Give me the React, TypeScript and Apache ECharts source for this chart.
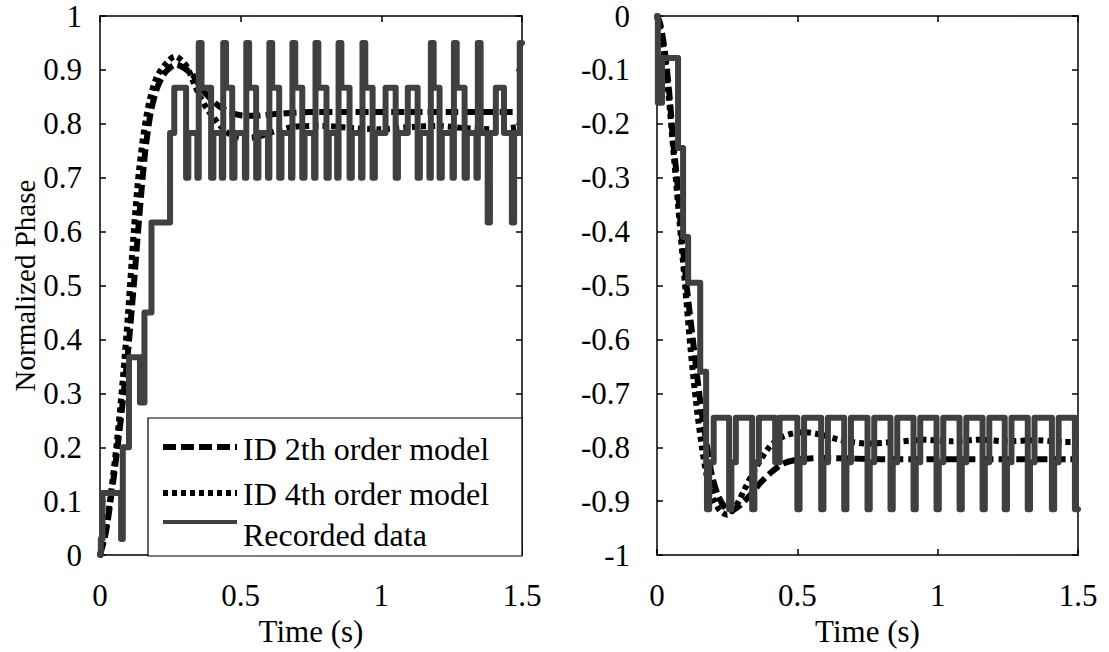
import React, { useEffect, useRef } from "react";
import * as echarts from "echarts";

const FONT = "'Liberation Serif', 'Times New Roman', Times, serif";

// ---------- Left panel data ----------
// Recorded data: [time (s), normalized phase] change points (held until next point)
const leftRecorded = [
  [0, 0], [0.003, 0.03], [0.009, 0.115], [0.075, 0.03], [0.081, 0.2],
  [0.103, 0.367], [0.142, 0.283], [0.158, 0.45], [0.183, 0.617], [0.249, 0.783],
  [0.264, 0.867], [0.306, 0.7], [0.314, 0.783],
  [0.346, 0.7], [0.351, 0.95], [0.361, 0.867], [0.395, 0.7], [0.403, 0.783],
  [0.433, 0.7], [0.438, 0.95], [0.448, 0.867], [0.47, 0.7], [0.478, 0.783],
  [0.515, 0.7], [0.52, 0.95], [0.53, 0.867], [0.555, 0.7], [0.563, 0.783],
  [0.597, 0.7], [0.602, 0.95], [0.612, 0.867], [0.637, 0.7], [0.645, 0.783],
  [0.679, 0.7], [0.684, 0.95], [0.694, 0.867], [0.719, 0.7], [0.727, 0.783],
  [0.761, 0.7], [0.766, 0.95], [0.776, 0.867], [0.805, 0.7], [0.813, 0.783],
  [0.843, 0.7], [0.848, 0.95], [0.858, 0.867], [0.887, 0.7], [0.895, 0.783],
  [0.928, 0.7], [0.933, 0.95], [0.943, 0.867], [0.969, 0.7], [0.977, 0.783],
  [1.015, 0.867], [1.051, 0.7], [1.059, 0.783], [1.094, 0.867], [1.129, 0.7],
  [1.137, 0.783], [1.171, 0.7], [1.176, 0.95], [1.186, 0.867], [1.207, 0.7],
  [1.215, 0.783], [1.253, 0.7], [1.258, 0.95], [1.268, 0.867], [1.296, 0.7],
  [1.304, 0.783], [1.338, 0.7], [1.343, 0.95], [1.353, 0.783], [1.378, 0.617],
  [1.386, 0.783], [1.407, 0.867], [1.436, 0.783], [1.464, 0.617], [1.472, 0.783],
  [1.492, 0.95], [1.5, 0.95],
];

const leftDashT = [
  0, 0.02, 0.04, 0.06, 0.08, 0.1, 0.12, 0.14, 0.16, 0.18, 0.2, 0.22, 0.24,
  0.27, 0.3, 0.33, 0.36, 0.39, 0.42, 0.46, 0.5, 0.55, 0.62, 0.75, 1.0, 1.25, 1.5,
];
const leftDashV = [
  0, 0.04, 0.11, 0.19, 0.28, 0.38, 0.5, 0.63, 0.745, 0.82, 0.862, 0.886, 0.9,
  0.91, 0.903, 0.89, 0.866, 0.848, 0.834, 0.822, 0.816, 0.815, 0.818, 0.822,
  0.822, 0.822, 0.822,
];

const leftDotT = [
  0, 0.02, 0.04, 0.06, 0.08, 0.1, 0.12, 0.14, 0.167, 0.2, 0.24, 0.267, 0.29,
  0.31, 0.33, 0.356, 0.38, 0.403, 0.43, 0.452, 0.5, 0.56, 0.62, 0.7, 0.8, 0.9,
  1.0, 1.1, 1.2, 1.3, 1.4, 1.5,
];
const leftDotV = [
  0, 0.045, 0.12, 0.21, 0.32, 0.45, 0.6, 0.72, 0.82, 0.885, 0.915, 0.925,
  0.918, 0.905, 0.88, 0.85, 0.828, 0.812, 0.795, 0.784, 0.774, 0.776, 0.786,
  0.795, 0.796, 0.792, 0.79, 0.794, 0.796, 0.792, 0.79, 0.795,
];

// ---------- Right panel data ----------
const rightRecorded = [
  [0, 0], [0.003, -0.161], [0.018, -0.078], [0.075, -0.245], [0.093, -0.41],
  [0.111, -0.495], [0.154, -0.66], [0.175, -0.828], [0.178, -0.915], [0.186, -0.828],
  [0.202, -0.745],
  [0.257, -0.915], [0.265, -0.828], [0.281, -0.745],
  [0.339, -0.915], [0.347, -0.828], [0.363, -0.745],
  [0.421, -0.828], [0.437, -0.745],
  [0.5, -0.915], [0.508, -0.828], [0.524, -0.745],
  [0.585, -0.915], [0.593, -0.828], [0.609, -0.745],
  [0.667, -0.915], [0.675, -0.828], [0.691, -0.745],
  [0.75, -0.915], [0.758, -0.828], [0.774, -0.745],
  [0.832, -0.915], [0.84, -0.828], [0.856, -0.745],
  [0.914, -0.915], [0.922, -0.828], [0.938, -0.745],
  [0.996, -0.915], [1.004, -0.828], [1.02, -0.745],
  [1.078, -0.915], [1.086, -0.828], [1.102, -0.745],
  [1.16, -0.915], [1.168, -0.828], [1.184, -0.745],
  [1.239, -0.915], [1.247, -0.828], [1.263, -0.745],
  [1.321, -0.915], [1.329, -0.828], [1.345, -0.745],
  [1.407, -0.915], [1.415, -0.828], [1.431, -0.745],
  [1.489, -0.915], [1.5, -0.915],
];

const rightDashT = [
  0, 0.011, 0.029, 0.046, 0.057, 0.071, 0.082, 0.093, 0.107, 0.129, 0.143,
  0.161, 0.179, 0.196, 0.218, 0.24, 0.26, 0.29, 0.33, 0.37, 0.41, 0.45, 0.5,
  0.6, 0.8, 1.0, 1.25, 1.5,
];
const rightDashV = [
  0, -0.013, -0.07, -0.156, -0.23, -0.3, -0.372, -0.433, -0.507, -0.606,
  -0.668, -0.742, -0.8, -0.853, -0.89, -0.91, -0.918, -0.91, -0.89, -0.865,
  -0.845, -0.83, -0.823, -0.82, -0.822, -0.822, -0.822, -0.822,
];

const rightDotT = [
  0, 0.02, 0.04, 0.06, 0.08, 0.1, 0.12, 0.14, 0.16, 0.18, 0.2, 0.225, 0.25,
  0.28, 0.31, 0.35, 0.4, 0.45, 0.52, 0.58, 0.65, 0.75, 0.85, 0.95, 1.05, 1.15,
  1.25, 1.35, 1.45, 1.5,
];
const rightDotV = [
  0, -0.05, -0.14, -0.26, -0.38, -0.5, -0.62, -0.72, -0.8, -0.86, -0.895,
  -0.918, -0.925, -0.91, -0.88, -0.84, -0.8, -0.78, -0.772, -0.776, -0.786,
  -0.793, -0.79, -0.786, -0.789, -0.786, -0.789, -0.787, -0.79, -0.79,
];

const legendLabels = ["ID 2th order model", "ID 4th order model", "Recorded data"];
const xAxisName = "Time (s)";
const yAxisName = "Normalized Phase";

const zip = (t: number[], v: number[]) => t.map((x, i) => [x, v[i]]);

const axisLineStyle = { color: "#000", width: 1.5 };
const labelStyle = { fontSize: 31, color: "#000", fontFamily: FONT };

function xAxes(grid: number) {
  const base = {
    type: "value",
    gridIndex: grid,
    min: 0,
    max: 1.5,
    interval: 0.5,
    splitLine: { show: false },
    axisLine: { show: true, onZero: false, lineStyle: axisLineStyle },
    axisTick: { show: true, inside: true, length: 6, lineStyle: axisLineStyle },
  };
  return [
    {
      ...base,
      position: "bottom",
      axisLabel: { ...labelStyle, margin: 25 },
      name: xAxisName,
      nameLocation: "middle",
      nameGap: 60,
      nameTextStyle: { ...labelStyle },
    },
    { ...base, position: "top", axisLabel: { show: false } },
  ];
}

function yAxes(grid: number, min: number, max: number, margin: number, name?: string) {
  const base = {
    type: "value",
    gridIndex: grid,
    min,
    max,
    interval: 0.1,
    splitLine: { show: false },
    axisLine: { show: true, onZero: false, lineStyle: axisLineStyle },
    axisTick: { show: true, inside: true, length: 6, lineStyle: axisLineStyle },
  };
  const left: any = {
    ...base,
    position: "left",
    axisLabel: { ...labelStyle, margin },
  };
  if (name) {
    left.name = name;
    left.nameLocation = "middle";
    left.nameGap = 57;
    left.nameTextStyle = { ...labelStyle, fontSize: 29 };
  }
  return [left, { ...base, position: "right", axisLabel: { show: false } }];
}

function modelSeries(xi: number, yi: number, data: number[][], dash: number[]) {
  return {
    type: "line",
    xAxisIndex: xi,
    yAxisIndex: yi,
    data,
    showSymbol: false,
    smooth: 0.3,
    lineStyle: { color: "#000", width: 6, type: dash, cap: "butt" },
    silent: true,
  };
}

function recSeries(xi: number, yi: number, data: number[][]) {
  return {
    type: "line",
    xAxisIndex: xi,
    yAxisIndex: yi,
    data,
    showSymbol: false,
    step: "end",
    lineStyle: { color: "#404040", width: 6, cap: "round", join: "round" },
    silent: true,
  };
}

const DASH = [13, 5];
const DOT = [5, 4];

export default function App() {
  const ref = useRef<HTMLDivElement>(null);
  useEffect(() => {
    const chart = echarts.init(ref.current!, null, { renderer: "svg" });
    const legendText = (i: number, y: number) => ({
      type: "text",
      x: 243,
      y,
      style: { text: legendLabels[i], fontSize: 32, fontFamily: FONT, fill: "#000", verticalAlign: "middle" },
      z: 101,
    });
    const option: any = {
      animation: false,
      backgroundColor: "#fff",
      textStyle: { fontFamily: FONT },
      grid: [
        { left: 100, top: 16, width: 422, height: 540 },
        { left: 657, top: 16, width: 421, height: 540 },
      ],
      xAxis: [...xAxes(0), ...xAxes(1)],
      yAxis: [...yAxes(0, 0, 1, 18, yAxisName), ...yAxes(1, -1, 0, 27)],
      series: [
        modelSeries(0, 0, zip(leftDashT, leftDashV), DASH),
        modelSeries(0, 0, zip(leftDotT, leftDotV), DOT),
        recSeries(0, 0, leftRecorded),
        modelSeries(2, 2, zip(rightDashT, rightDashV), DASH),
        modelSeries(2, 2, zip(rightDotT, rightDotV), DOT),
        recSeries(2, 2, rightRecorded),
      ],
      graphic: [
        {
          type: "rect",
          shape: { x: 148, y: 418, width: 374, height: 138 },
          style: { fill: "#fff", stroke: "#000", lineWidth: 1.2 },
          z: 100,
        },
        {
          type: "line",
          shape: { x1: 163, y1: 447, x2: 237, y2: 447 },
          style: { stroke: "#000", lineWidth: 6, lineDash: DASH },
          z: 101,
        },
        {
          type: "line",
          shape: { x1: 163, y1: 493, x2: 237, y2: 493 },
          style: { stroke: "#000", lineWidth: 6, lineDash: DOT },
          z: 101,
        },
        {
          type: "line",
          shape: { x1: 163, y1: 522, x2: 237, y2: 522 },
          style: { stroke: "#404040", lineWidth: 4 },
          z: 101,
        },
        legendText(0, 449),
        legendText(1, 494),
        legendText(2, 535),
      ],
    };
    chart.setOption(option);
    return () => chart.dispose();
  }, []);
  return (
    <div
      ref={ref}
      style={{ position: "absolute", left: 0, top: 0, width: 1109, height: 652, background: "#fff" }}
    />
  );
}
